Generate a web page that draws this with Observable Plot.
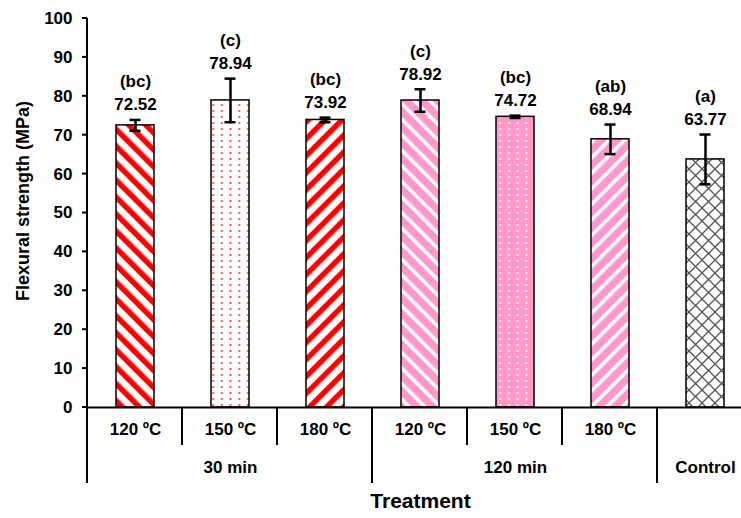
<!DOCTYPE html>
<html>
<head>
<meta charset="utf-8">
<script src="https://cdn.jsdelivr.net/npm/d3@7"></script>
<script src="https://cdn.jsdelivr.net/npm/@observablehq/plot@0.6"></script>
<style>
  body { margin: 0; background: white; }
  #chart svg { display: block; }
</style>
</head>
<body>
<div id="chart"></div>
<script>
// ---- data ----
const temps = ["120 ºC", "150 ºC", "180 ºC", "120 ºC", "150 ºC", "180 ºC", ""];
const groups = ["30 min", "30 min", "30 min", "120 min", "120 min", "120 min", "Control"];
const means = [72.52, 78.94, 73.92, 78.92, 74.72, 68.94, 63.77];
const sds = [1.4, 5.6, 0.6, 2.9, 0.3, 3.8, 6.4];
const letters = ["(bc)", "(c)", "(bc)", "(c)", "(bc)", "(ab)", "(a)"];
const fills = ["redBack", "redDots", "redFwd", "pinkBack", "pinkDots", "pinkFwd", "cross"];
const groupLabels = ["30 min", "120 min", "Control"];
const yTicks = [0, 10, 20, 30, 40, 50, 60, 70, 80, 90, 100];

const keys = temps.map((t, i) => groups[i] + "|" + t);
const data = keys.map((k, i) => ({
  key: k, temp: temps[i], group: groups[i], mean: means[i], sd: sds[i],
  letter: letters[i], fill: `url(#p-${fills[i]})`
}));
// group label sits under the middle category of each group
const groupData = groupLabels.map(g => {
  const ks = keys.filter((k, i) => groups[i] === g);
  return {key: ks[Math.floor(ks.length / 2)], label: g};
});

const font = "'Liberation Sans', Arial, sans-serif";

const chart = Plot.plot({
  width: 741,
  height: 518,
  marginLeft: 87,
  marginRight: -12,
  marginTop: 18,
  marginBottom: 111,
  style: {fontFamily: font, fontWeight: "bold", fontSize: "17px", color: "black", background: "white"},
  x: {domain: keys, paddingInner: 0.6, paddingOuter: 0.3, axis: null},
  y: {domain: [0, 100], axis: null},
  color: {type: "identity"},
  marks: [
    Plot.barY(data, {x: "key", y: "mean", fill: "fill", stroke: "black", strokeWidth: 1.5}),
    Plot.ruleY([0], {stroke: "black", strokeWidth: 2}),
    Plot.ruleX(data, {x: "key", y1: d => d.mean - d.sd, y2: d => d.mean + d.sd, stroke: "black", strokeWidth: 2.5}),
    Plot.tickY(data, {x: "key", y: d => d.mean + d.sd, stroke: "black", strokeWidth: 2.5, insetLeft: 13.5, insetRight: 13.5}),
    Plot.tickY(data, {x: "key", y: d => d.mean - d.sd, stroke: "black", strokeWidth: 2.5, insetLeft: 13.5, insetRight: 13.5}),
    Plot.text(data, {x: "key", y: d => d.mean + d.sd, text: d => d.mean.toFixed(2), dy: -15, fontSize: 17, fontWeight: "bold", fill: "black"}),
    Plot.text(data, {x: "key", y: d => d.mean + d.sd, text: "letter", dy: -38, fontSize: 17, fontWeight: "bold", fill: "black"}),
    // y tick labels
    Plot.text(yTicks, {y: d => d, text: d => String(d), frameAnchor: "left", textAnchor: "end", dx: -15, fontSize: 17, fontWeight: "bold", fill: "black"}),
    Plot.text(data, {x: "key", text: "temp", frameAnchor: "bottom", dy: 27, fontSize: 17, fontWeight: "bold", fill: "black"}),
    Plot.text(groupData, {x: "key", text: "label", frameAnchor: "bottom", dy: 65, fontSize: 17, fontWeight: "bold", fill: "black"}),
    Plot.text(["Treatment"], {text: d => d, frameAnchor: "bottom", dy: 100, fontSize: 21, fontWeight: "bold", fill: "black"}),
    Plot.text(["Flexural strength (MPa)"], {text: d => d, frameAnchor: "left", textAnchor: "middle", dx: -64, dy: -12, rotate: -90, fontSize: 18, fontWeight: "bold", fill: "black"})
  ]
});

document.getElementById("chart").appendChild(chart);

// ---- patterns ----
const svg = d3.select(chart);
const defs = svg.insert("defs", ":first-child");
function stripes(id, bg, fg, size, w, angle) {
  const p = defs.append("pattern").attr("id", "p-" + id).attr("patternUnits", "userSpaceOnUse")
    .attr("width", size).attr("height", size).attr("patternTransform", `rotate(${angle})`);
  p.append("rect").attr("width", size).attr("height", size).attr("fill", bg);
  p.append("rect").attr("width", w).attr("height", size).attr("fill", fg);
}
function dots(id, bg, fg, w, h, r) {
  const p = defs.append("pattern").attr("id", "p-" + id).attr("patternUnits", "userSpaceOnUse")
    .attr("width", w).attr("height", h);
  p.append("rect").attr("width", w).attr("height", h).attr("fill", bg);
  p.append("circle").attr("cx", w / 2).attr("cy", h / 2).attr("r", r).attr("fill", fg);
}
stripes("redBack", "white", "#FF0000", 12, 5.5, -45);
stripes("redFwd", "white", "#FF0000", 12, 5.5, 45);
stripes("pinkBack", "#FF99CC", "white", 11, 3.5, -45);
stripes("pinkFwd", "#FF99CC", "white", 11, 3.5, 45);
dots("redDots", "white", "#FF3333", 8.7, 6, 1.1);
dots("pinkDots", "#FF99CC", "white", 8.7, 6, 1.0);
{
  const s = 13;
  const p = defs.append("pattern").attr("id", "p-cross").attr("patternUnits", "userSpaceOnUse")
    .attr("width", s).attr("height", s);
  p.append("rect").attr("width", s).attr("height", s).attr("fill", "white");
  p.append("path").attr("d", `M0,0L${s},${s}M${s},0L0,${s}`).attr("stroke", "#555").attr("stroke-width", 1.3);
}

// ---- axis line, y ticks + category separators ----
const xs = chart.scale("x");
const ys = chart.scale("y");
const [x0] = xs.range;
const step = xs.step;
const yBase = ys.apply(0);
const yTop = ys.apply(100);
const g = svg.append("g").attr("stroke", "black");
g.append("line").attr("x1", x0).attr("x2", x0).attr("y1", yTop).attr("y2", yBase + 76).attr("stroke-width", 2);
for (const t of yTicks) {
  const y = ys.apply(t);
  g.append("line").attr("x1", x0 - 5).attr("x2", x0).attr("y1", y).attr("y2", y).attr("stroke-width", 2);
}
for (let i = 1; i < keys.length; i++) {
  const isGroup = groups[i] !== groups[i - 1];
  const x = x0 + i * step;
  g.append("line").attr("x1", x).attr("x2", x).attr("y1", yBase)
    .attr("y2", yBase + (isGroup ? 76 : 38)).attr("stroke-width", 2);
}
</script>
</body>
</html>
